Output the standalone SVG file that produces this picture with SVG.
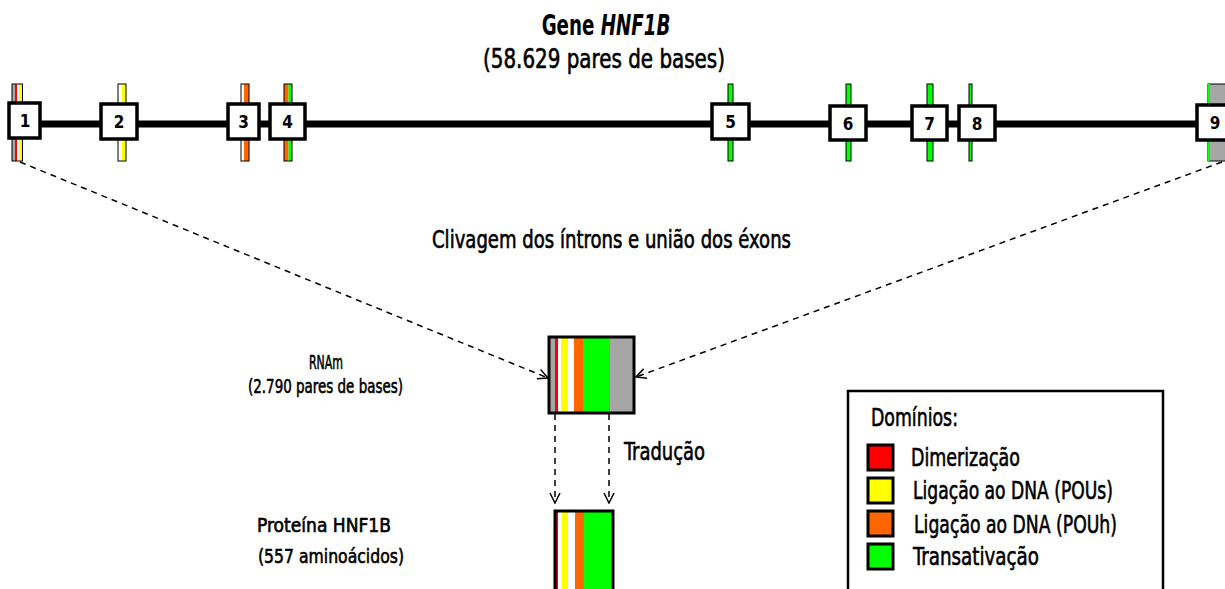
<svg xmlns="http://www.w3.org/2000/svg" width="1225" height="589" viewBox="0 0 1225 589">
<style>
text{font-family:"DejaVu Sans Condensed","DejaVu Sans","Liberation Sans",sans-serif;fill:#000}
.l{stroke:#000;stroke-width:0.6}
.t{font-size:20px}
.n{font-size:17px;font-weight:bold;text-anchor:middle}
.box{fill:#fff;stroke:#000;stroke-width:3.5}
.bar{stroke:#000;stroke-width:1}
.dash{fill:none;stroke:#000;stroke-width:1.5;stroke-dasharray:6 5}
.sw{stroke:#000;stroke-width:3}
</style>
<defs>
<marker id="ah" viewBox="0 0 12 12" refX="11" refY="6" markerWidth="12" markerHeight="12" markerUnits="userSpaceOnUse" orient="auto">
<path d="M1,1 L11,6 L1,11" fill="none" stroke="#000" stroke-width="1.5"/>
</marker>
</defs>
<g id="title">
<text transform="translate(606,35) scale(0.7,1)" x="0" y="0" font-size="29" font-weight="bold" text-anchor="middle">Gene <tspan font-style="italic">HNF1B</tspan></text>
<text x="483" y="68" font-size="27" class="l" textLength="242" lengthAdjust="spacingAndGlyphs">(58.629 pares de bases)</text>
</g>
<g id="gene">
<rect x="20" y="120.5" width="1190" height="7" fill="#000"/>
<g id="exon1">
<rect x="12" y="84" width="3" height="77" fill="#a6a6a6"/>
<rect x="15" y="84" width="2" height="77" fill="#f00"/>
<rect x="17" y="84" width="2" height="77" fill="#fff"/>
<rect x="19" y="84" width="3.5" height="77" fill="#ff0"/>
<rect x="12" y="84" width="10.5" height="77" fill="none" class="bar"/>
<rect x="9" y="103" width="31" height="35" class="box"/>
<text x="25" y="127" class="n">1</text>
</g>
<g id="exon2">
<rect x="118" y="84" width="4" height="77" fill="#fff"/>
<rect x="122" y="84" width="4" height="77" fill="#ff0"/>
<rect x="118" y="84" width="8" height="77" fill="none" class="bar"/>
<rect x="101" y="104" width="36" height="35" class="box"/>
<text x="119" y="128" class="n">2</text>
</g>
<g id="exon3">
<rect x="241" y="84" width="3" height="77" fill="#fff"/>
<rect x="244" y="84" width="5" height="77" fill="#ff6600"/>
<rect x="241" y="84" width="8" height="77" fill="none" class="bar"/>
<rect x="228" y="104" width="31" height="35" class="box"/>
<text x="243.5" y="128" class="n">3</text>
</g>
<g id="exon4">
<rect x="284" y="84" width="4.5" height="77" fill="#ff6600"/>
<rect x="288.5" y="84" width="3.5" height="77" fill="#0f0"/>
<rect x="284" y="84" width="8" height="77" fill="none" class="bar"/>
<rect x="270" y="104" width="35" height="35" class="box"/>
<text x="287.5" y="128" class="n">4</text>
</g>
<g id="exon5">
<rect x="728" y="84" width="5" height="77" fill="#0f0" class="bar"/>
<rect x="712" y="104" width="37" height="35" class="box"/>
<text x="730.5" y="128" class="n">5</text>
</g>
<g id="exon6">
<rect x="846" y="84" width="5" height="77" fill="#0f0" class="bar"/>
<rect x="830" y="106" width="36" height="34" class="box"/>
<text x="848" y="130" class="n">6</text>
</g>
<g id="exon7">
<rect x="927" y="84" width="6" height="77" fill="#0f0" class="bar"/>
<rect x="912" y="106" width="35" height="34" class="box"/>
<text x="929.5" y="130" class="n">7</text>
</g>
<g id="exon8">
<rect x="969" y="84" width="3" height="77" fill="#0f0" class="bar"/>
<rect x="959" y="106" width="36" height="34" class="box"/>
<text x="977" y="130" class="n">8</text>
</g>
<g id="exon9">
<rect x="1208" y="84" width="20" height="77" fill="#a6a6a6" class="bar"/>
<rect x="1208" y="84" width="2" height="77" fill="#0f0"/>
<rect x="1197" y="105" width="36" height="35" class="box"/>
<text x="1215" y="129" class="n">9</text>
</g>
</g>
<g id="connectors">
<line x1="20" y1="162" x2="548" y2="378" class="dash" marker-end="url(#ah)"/>
<line x1="1222" y1="162" x2="636" y2="377" class="dash" marker-end="url(#ah)"/>
<line x1="555" y1="414" x2="555" y2="503" class="dash" marker-end="url(#ah)"/>
<line x1="609" y1="414" x2="609" y2="503" class="dash" marker-end="url(#ah)"/>
</g>
<g id="splice-label">
<text x="432" y="248" font-size="24" class="l" textLength="359" lengthAdjust="spacingAndGlyphs">Clivagem dos íntrons e união dos éxons</text>
</g>
<g id="rnam">
<rect x="549" y="337" width="6" height="76" fill="#a6a6a6"/>
<rect x="555" y="337" width="3" height="76" fill="#f00"/>
<rect x="558" y="337" width="3" height="76" fill="#fff"/>
<rect x="561" y="337" width="7" height="76" fill="#ff0"/>
<rect x="568" y="337" width="6" height="76" fill="#fff"/>
<rect x="574" y="337" width="9" height="76" fill="#ff6600"/>
<rect x="583" y="337" width="27" height="76" fill="#0f0"/>
<rect x="610" y="337" width="24" height="76" fill="#a6a6a6"/>
<rect x="549" y="337" width="85" height="76" fill="none" stroke="#000" stroke-width="3"/>
<text x="309" y="369" class="t l" textLength="34" lengthAdjust="spacingAndGlyphs">RNAm</text>
<text x="248" y="393" class="t l" textLength="155" lengthAdjust="spacingAndGlyphs">(2.790 pares de bases)</text>
</g>
<g id="traducao">
<text x="624" y="460" font-size="25" class="l" textLength="81" lengthAdjust="spacingAndGlyphs">Tradução</text>
</g>
<g id="proteina">
<rect x="555" y="511" width="3" height="80" fill="#f00"/>
<rect x="558" y="511" width="4" height="80" fill="#fff"/>
<rect x="562" y="511" width="6" height="80" fill="#ff0"/>
<rect x="568" y="511" width="7" height="80" fill="#fff"/>
<rect x="575" y="511" width="9" height="80" fill="#ff6600"/>
<rect x="584" y="511" width="29" height="80" fill="#0f0"/>
<rect x="555" y="511" width="58" height="80" fill="none" stroke="#000" stroke-width="3"/>
<text x="257" y="532" class="t l" textLength="134" lengthAdjust="spacingAndGlyphs">Proteína HNF1B</text>
<text x="258" y="563" class="t l" textLength="146" lengthAdjust="spacingAndGlyphs">(557 aminoácidos)</text>
</g>
<g id="legend">
<rect x="848" y="391" width="315" height="210" fill="#fff" stroke="#000" stroke-width="2.5"/>
<text x="871" y="426" font-size="25" class="l" textLength="87" lengthAdjust="spacingAndGlyphs">Domínios:</text>
<rect x="868" y="445" width="25" height="25" fill="#f00" class="sw"/>
<rect x="868" y="478" width="25" height="25" fill="#ff0" class="sw"/>
<rect x="868" y="511" width="25" height="25" fill="#ff6600" class="sw"/>
<rect x="868" y="544" width="25" height="25" fill="#0f0" class="sw"/>
<text x="911" y="466" font-size="25" class="l" textLength="109" lengthAdjust="spacingAndGlyphs">Dimerização</text>
<text x="913" y="499" font-size="25" class="l" textLength="200" lengthAdjust="spacingAndGlyphs">Ligação ao DNA (POUs)</text>
<text x="914" y="533" font-size="25" class="l" textLength="203" lengthAdjust="spacingAndGlyphs">Ligação ao DNA (POUh)</text>
<text x="913" y="565" font-size="25" class="l" textLength="126" lengthAdjust="spacingAndGlyphs">Transativação</text>
</g>
</svg>
